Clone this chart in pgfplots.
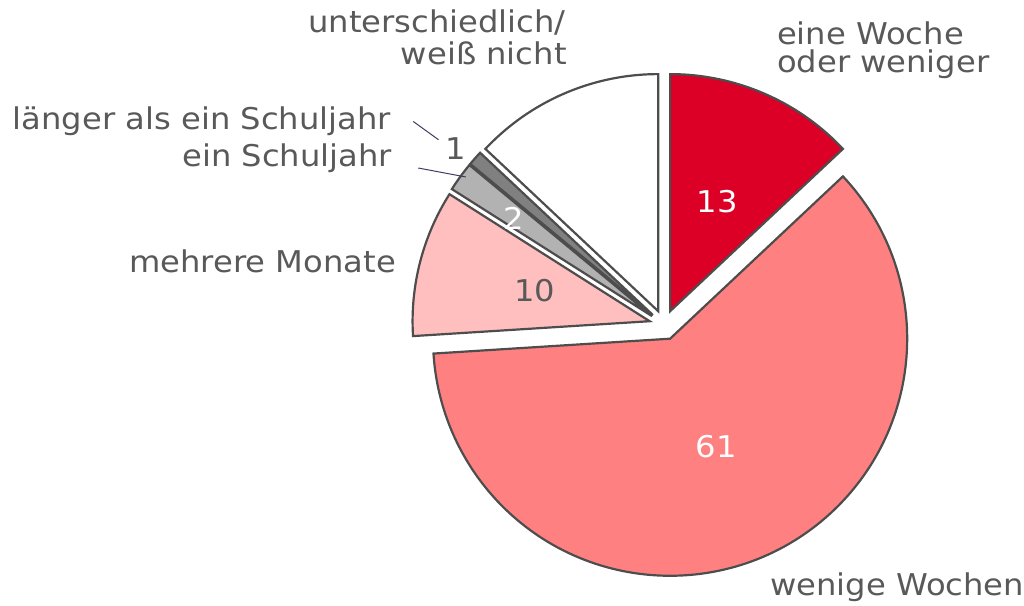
\documentclass[border=0pt]{standalone}
\usepackage{fontspec}
\setmainfont{DejaVu Sans}[FakeStretch=1.075]
\usepackage{pgfplots}
\usepackage{pgfplotstable}
\pgfplotsset{compat=1.18}

\definecolor{wred}{RGB}{221,0,38}
\definecolor{wpink}{RGB}{255,128,128}
\definecolor{wlight}{RGB}{255,191,191}
\definecolor{wgray}{RGB}{178,178,178}
\definecolor{wdgray}{RGB}{128,128,128}
\definecolor{edge}{RGB}{77,77,77}
\definecolor{txt}{RGB}{89,89,89}
\definecolor{lead}{RGB}{60,60,100}

% share of answers in percent, clockwise from the top
\pgfplotstableread{
value fill
13 wred
61 wpink
10 wlight
2  wgray
1  wdgray
13 white
}\piedata

\def\cx{665.3}   % pie centre (axis units = px)
\def\cy{281.5}
\def\expl{15}    % explosion of every slice
\def\rad{118.75pt} % radius 237.5 px

\begin{document}
\begin{tikzpicture}[every node/.style={font=\fontsize{15pt}{18pt}\selectfont, text=txt, inner sep=0pt}]
% start/end angles and apex of each slice
\def\cumangle{90}
\pgfplotsforeachungrouped \i in {0,...,5}{%
  \pgfplotstablegetelem{\i}{value}\of\piedata
  \pgfmathsetmacro\va{\cumangle}%
  \pgfmathsetmacro\vb{\cumangle-3.6*\pgfplotsretval}%
  \pgfmathsetmacro\vm{(\va+\vb)/2}%
  \pgfmathsetmacro\vx{\cx+\expl*cos(\vm)}%
  \pgfmathsetmacro\vy{\cy+\expl*sin(\vm)}%
  \pgfplotstablegetelem{\i}{fill}\of\piedata
  \expandafter\xdef\csname fc\i\endcsname{\pgfplotsretval}%
  \expandafter\xdef\csname sa\i\endcsname{\va}%
  \expandafter\xdef\csname sb\i\endcsname{\vb}%
  \expandafter\xdef\csname ax\i\endcsname{\vx}%
  \expandafter\xdef\csname ay\i\endcsname{\vy}%
  \xdef\cumangle{\vb}%
}
\begin{axis}[
  x=0.5pt, y=0.5pt,
  xmin=0, xmax=1024, ymin=0, ymax=607,
  hide axis, clip=false,
]
\path (axis cs:0,0) rectangle (axis cs:1024,607);
\pgfplotsinvokeforeach{0,...,5}{%
  \edef\temp{\noexpand\filldraw[fill=\csname fc#1\endcsname, draw=edge, line width=1.1pt]
    (axis cs:\csname ax#1\endcsname,\csname ay#1\endcsname)
    -- ++(\csname sa#1\endcsname:\rad)
    arc[start angle=\csname sa#1\endcsname, end angle=\csname sb#1\endcsname, radius=\rad]
    -- cycle;}%
  \temp
}

% values in the slices
\node[anchor=base, text=white] at (axis cs:718.4,393.7) {13};
\node[anchor=base, text=white] at (axis cs:717.5,148.7) {61};
\node[anchor=base] at (axis cs:535.5,305.3) {10};
\node[anchor=base, text=white] at (axis cs:515,377) {2};
\node[anchor=base] at (axis cs:456.4,447.7) {1};

% category labels
\node[anchor=base east] at (axis cs:567,574) {unterschiedlich/};
\node[anchor=base east] at (axis cs:568,542) {weiß nicht};
\node[anchor=base west] at (axis cs:778,562) {eine Woche};
\node[anchor=base west] at (axis cs:778,534) {oder weniger};
\node[anchor=base west] at (axis cs:771,10) {wenige Wochen};
\node[anchor=base east] at (axis cs:392,477) {länger als ein Schuljahr};
\node[anchor=base east] at (axis cs:393,440.3) {ein Schuljahr};
\node[anchor=base east] at (axis cs:397,333.7) {mehrere Monate};

% leader lines
\draw[lead, line width=0.5pt] (axis cs:414,485.3) -- (axis cs:439.3,467);
\draw[lead, line width=0.5pt] (axis cs:419,438.7) -- (axis cs:466.7,429.7);
\end{axis}
\end{tikzpicture}
\end{document}
